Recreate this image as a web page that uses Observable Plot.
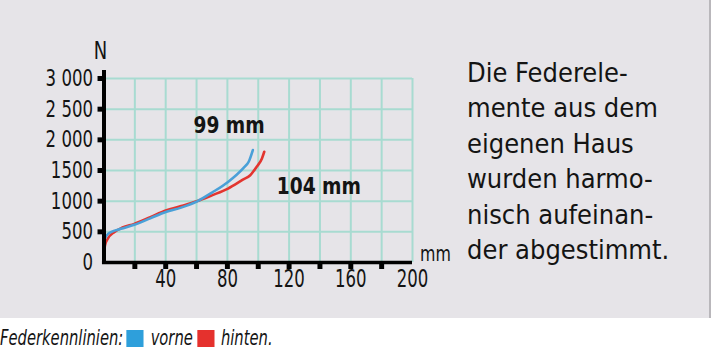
<!DOCTYPE html>
<html><head><meta charset="utf-8">
<script src="https://cdn.jsdelivr.net/npm/d3@7"></script>
<script src="https://cdn.jsdelivr.net/npm/@observablehq/plot@0.6"></script>
<style>
body{margin:0;background:#fff;width:712px;height:355px;overflow:hidden;position:relative;
 font-family:"DejaVu Sans Condensed","Liberation Sans Narrow",sans-serif;font-stretch:condensed;color:#141414;}
#panel{position:absolute;left:0;top:0;width:709px;height:318px;background:#e6e4e8;border-right:2px solid #b9b7bb;}
#chart{position:absolute;left:0;top:0;}
#note{position:absolute;left:467px;top:55px;font-size:27px;line-height:35.4px;white-space:nowrap;}
#caption{position:absolute;left:0;top:326px;font-size:21px;font-style:italic;white-space:nowrap;display:flex;align-items:center;
 transform:scaleX(0.78);transform-origin:0 0;}
.sw{display:inline-block;width:22px;height:17px;}
</style></head>
<body>
<div id="panel"></div>
<div id="chart"></div>
<div id="note">Die Federele-<br>mente aus dem<br>eigenen Haus<br>wurden harmo-<br>nisch aufeinan-<br>der abgestimmt.</div>
<div id="caption">Federkennlinien:<span class="sw" style="background:#2e9fdb;margin:0 9px 0 4px"></span>vorne<span class="sw" style="background:#e5312d;margin:0 8px 0 6px"></span>hinten.</div>
<script>
const vorneMm = [0, 0.5, 2, 4.5, 11, 19.6, 30, 40, 50, 60.4, 70, 80.4, 90.5, 93.8, 96.5];
const vorneN  = [300, 380, 450, 495, 549, 615, 720, 823, 895, 997, 1140, 1314, 1544, 1642, 1833];
const hintenMm = [0, 0.6, 2.4, 6.6, 12, 19.6, 30, 40, 50, 60, 70, 80.4, 90, 94.8, 99, 102.4, 103.9];
const hintenN  = [60, 275, 385, 495, 570, 630, 740, 849, 920, 997, 1095, 1205, 1350, 1423, 1560, 1697, 1806];
const xGrid = [20, 40, 60, 80, 100, 120, 140, 160, 180, 200];
const xTickMarks = [20, 40, 60, 80, 100, 120, 140, 160, 180];
const xTickLabels = [40, 80, 120, 160, 200];
const yGrid = [500, 1000, 1500, 2000, 2500, 3000];
const yTicks = [0, 500, 1000, 1500, 2000, 2500, 3000];
const yTickLabels = ["0", "500", "1000", "1500", "2 000", "2 500", "3 000"];
const seriesLabels = ["99 mm", "104 mm"];

const vorne = vorneMm.map((x, i) => ({x, y: vorneN[i]}));
const hinten = hintenMm.map((x, i) => ({x, y: hintenN[i]}));
const font = '"DejaVu Sans Condensed","Liberation Sans Narrow",sans-serif';

const chart = Plot.plot({
  width: 460, height: 318,
  marginLeft: 103.5, marginRight: 48, marginTop: 78, marginBottom: 56,
  style: {background: "transparent", fontFamily: font, color: "#141414", overflow: "visible"},
  x: {domain: [0, 200]},
  y: {domain: [0, 3000]},
  marks: [
    Plot.ruleX(xGrid, {x: d => d, y1: 0, y2: 3000, stroke: "#a8dbd1", strokeWidth: 2}),
    Plot.ruleY(yGrid, {y: d => d, x1: 0, x2: 200, stroke: "#a8dbd1", strokeWidth: 2}),
    Plot.axisY({ticks: yTicks, tickFormat: (d, i) => yTickLabels[i], tickSize: 0, tickPadding: 11, fontSize: 23, label: null, className: "narrow"}),
    Plot.axisX({ticks: xTickLabels, tickSize: 0, tickPadding: 7, fontSize: 24.5, label: null, className: "narrowx"}),
    Plot.line(hinten, {x: "x", y: "y", stroke: "#e3352f", strokeWidth: 2.6, curve: "monotone-x"}),
    Plot.line(vorne, {x: "x", y: "y", stroke: "#4aa0d8", strokeWidth: 2.6, curve: "monotone-x"}),
    Plot.ruleX([0], {y1: 0, y2: 3130, stroke: "#000", strokeWidth: 4}),
    Plot.ruleY([0], {x1: -1, x2: 200, stroke: "#000", strokeWidth: 3.5}),
    Plot.dot(yGrid, {x: 0, y: d => d, symbol: "square", r: 2.8, fill: "#000", dx: -4}),
    Plot.dot(xTickMarks, {x: d => d, y: 0, symbol: "square", r: 2.8, fill: "#000", dy: 4}),
    Plot.text([seriesLabels[0]], {x: [58], y: [2234], text: d => d, textAnchor: "start", fontSize: 23, fontWeight: "bold", className: "boldlab"}),
    Plot.text([seriesLabels[1]], {x: [112], y: [1238], text: d => d, textAnchor: "start", fontSize: 23, fontWeight: "bold", className: "boldlab"}),
    Plot.text(["N"], {frameAnchor: "top-left", textAnchor: "middle", dx: -3.5, dy: -37, fontSize: 25, className: "narrow"}),
    Plot.text(["mm"], {frameAnchor: "bottom-right", textAnchor: "middle", dx: 23, dy: -2, fontSize: 22, className: "narrow"})
  ]
});
document.getElementById("chart").appendChild(chart);

function condense(selector, factor) {
  chart.querySelectorAll(selector).forEach(t => {
    const w = t.getComputedTextLength();
    if (w > 0) {
      t.setAttribute("textLength", (w * factor).toFixed(2));
      t.setAttribute("lengthAdjust", "spacingAndGlyphs");
    }
  });
}
condense(".narrow text", 0.8);
condense(".narrowx text", 0.75);
condense(".boldlab text", 0.9);
</script>
</body></html>
